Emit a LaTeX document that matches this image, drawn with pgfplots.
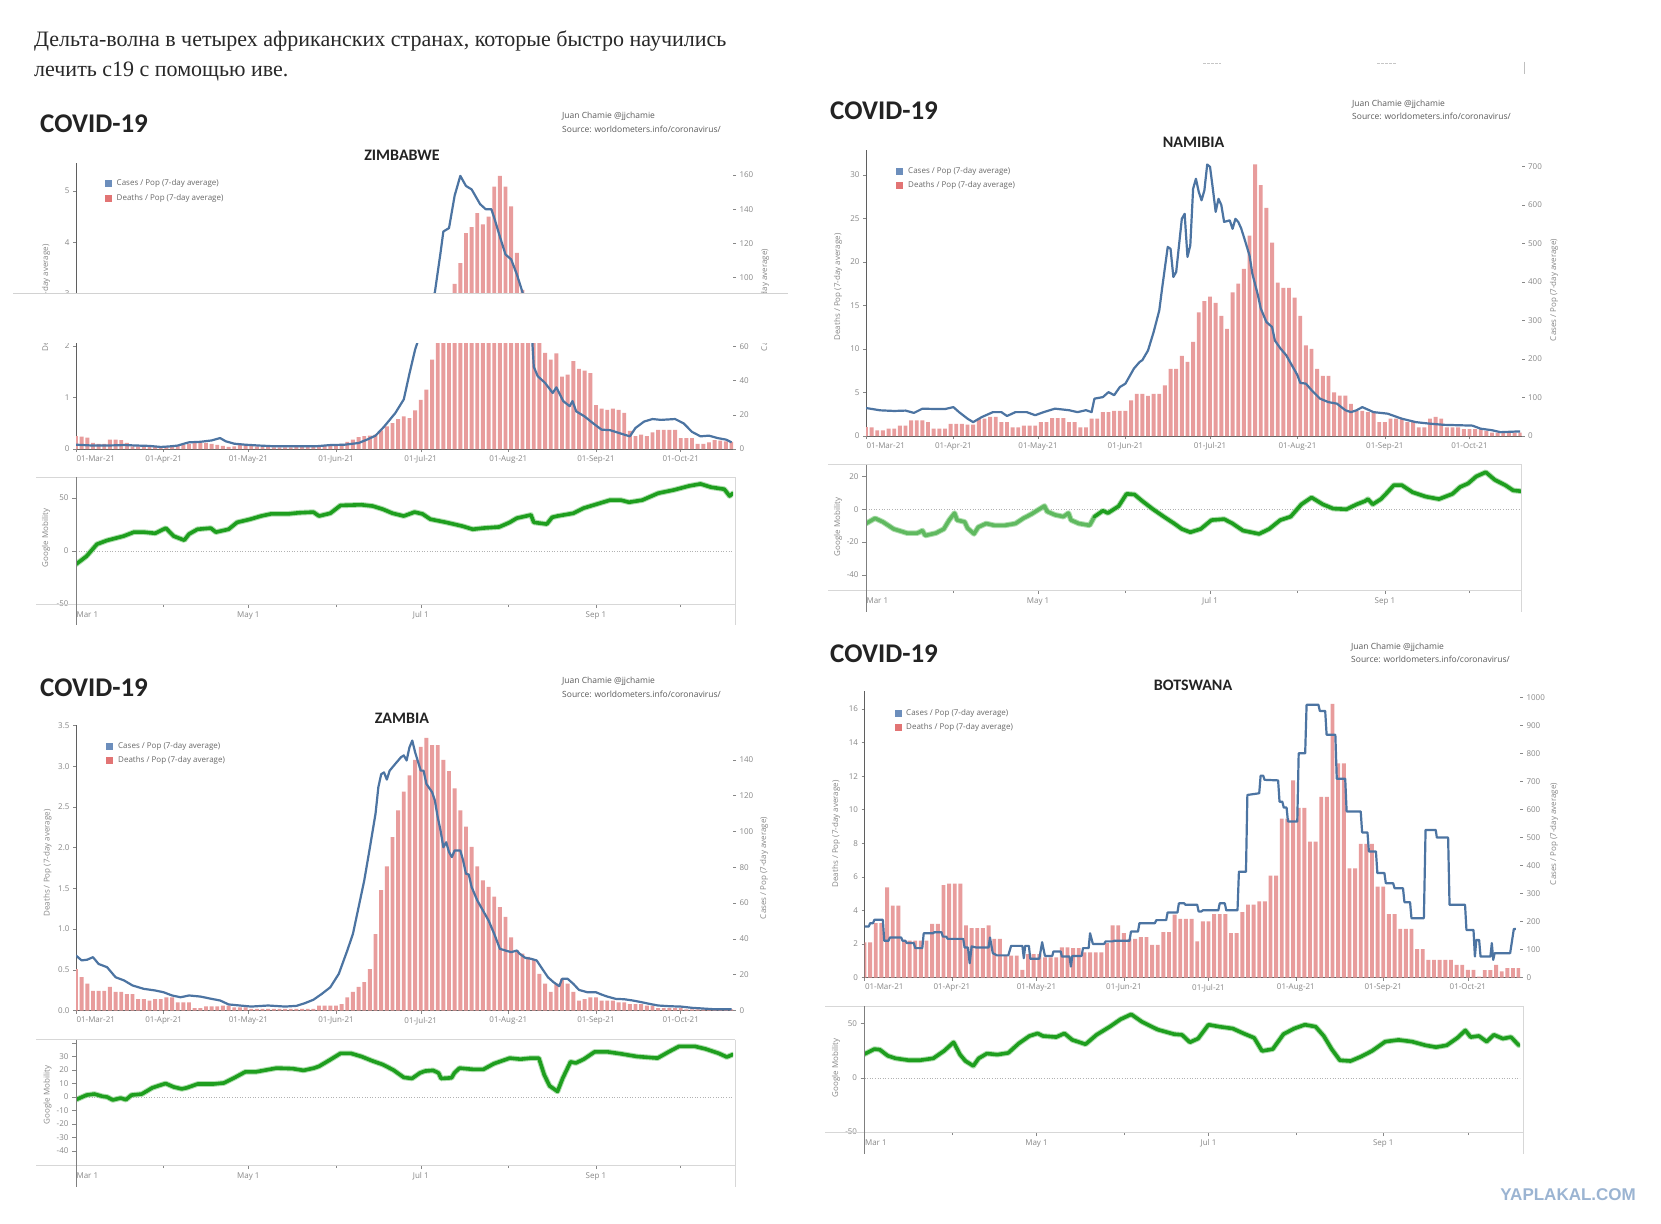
\documentclass[border=0pt]{standalone}
\usepackage{pgfplots}
\pgfplotsset{compat=1.18}
\usepackage{fontspec}
\setmainfont{Open Sans}
\newfontfamily\rufont{Liberation Serif}
\newfontfamily\cbfont{Carlito}
\newfontfamily\wmfont{Liberation Sans}
\definecolor{barc}{RGB}{232,156,156}
\definecolor{casec}{RGB}{76,116,162}
\definecolor{mobc}{RGB}{30,158,30}
\definecolor{mobl}{RGB}{120,200,120}
\definecolor{mobe}{RGB}{95,185,95}
\definecolor{axc}{RGB}{95,95,95}
\definecolor{tickc}{RGB}{135,135,135}
\definecolor{boxc}{RGB}{215,215,215}
\definecolor{legb}{RGB}{108,142,188}
\definecolor{legr}{RGB}{226,116,116}
\definecolor{legt}{RGB}{105,105,105}
\definecolor{txt}{RGB}{40,40,40}
\definecolor{ttl}{RGB}{35,35,35}
\definecolor{src}{RGB}{90,90,90}
\definecolor{wmc}{RGB}{155,180,210}
\newcommand{\tlfont}{\fontsize{8}{9}\selectfont}
\newcommand{\covfont}{\cbfont\bfseries\fontsize{27}{30}\selectfont}
\newcommand{\ctyfont}{\cbfont\bfseries\fontsize{16}{18}\selectfont}
\newcommand{\srcfont}{\fontsize{8.5}{10}\selectfont}

\pgfplotsset{
 base/.style={scale only axis, xmin=0, xmax=232.5,
   axis line style={-, draw=axc, line width=0.8pt},
   tick style={draw=tickc, line width=0.5pt},
   major tick length=3pt, tick align=outside,
   tick label style={font=\tlfont, text=tickc},
   /pgf/number format/assume math mode=true,
   /pgf/number format/1000 sep={}},
 deaths/.style={base, axis x line*=bottom, axis y line*=left,
   xtick={31,61,92,122,153,184,214},
   xticklabels={01-Apr-21,01-May-21,01-Jun-21,01-Jul-21,01-Aug-21,01-Sep-21,01-Oct-21},
   extra x ticks={0}, extra x tick labels={01-Mar-21},
   extra x tick style={xticklabel style={anchor=north west, xshift=-3pt}}},
 cases/.style={base, axis x line=none, axis y line*=right, axis line style={draw=none}},
 mob/.style={base, axis x line*=bottom, axis y line*=left, axis line style={draw=none},
   xtick={61,122,184}, xticklabels={May 1,Jul 1,Sep 1},
   extra x ticks={0}, extra x tick labels={Mar 1},
   extra x tick style={xticklabel style={anchor=north west, xshift=-3pt}},
   minor xtick={31,92,153,214}, minor tick length=3pt, major tick length=4pt},
 bars/.style={ybar, bar width=1.38, fill=barc, draw=none, bar shift=0pt},
 cline/.style={casec, line width=2.2pt, line join=round},
 mhalo/.style={mobl, line width=5.6pt, line join=round, line cap=round, opacity=0.6},
 mline/.style={mobc, line width=3.6pt, line join=round, line cap=round},
}

\begin{document}
\begin{tikzpicture}
\path[use as bounding box] (0,0) rectangle (1661pt,-1223pt);
\fill[white] (0,0) rectangle (1661pt,-1223pt);

% ---------- heading text ----------
\node[anchor=base west, font=\rufont\fontsize{22}{26}\selectfont, text=txt, inner sep=0] at (34pt,-47pt) {Дельта-волна в четырех африканских странах, которые быстро научились};
\node[anchor=base west, font=\rufont\fontsize{22}{26}\selectfont, text=txt, inner sep=0] at (34pt,-76pt) {лечить c19 с помощью иве.};

% remnants top right
\draw[gray!45, line width=0.7pt, dash pattern=on 2.5pt off 1.5pt] (1203pt,-63pt) -- (1221pt,-63pt);
\draw[gray!45, line width=0.7pt, dash pattern=on 2.5pt off 1.5pt] (1377pt,-63pt) -- (1397pt,-63pt);
\draw[gray!50, line width=0.7pt] (1524pt,-62pt) -- (1524pt,-74pt);

% =================== ZIMBABWE ===================
\begin{axis}[deaths, at={(76pt,-449pt)}, anchor=south west, width=657pt, height=286pt,
  ymin=0, ymax=5.54, ytick={0,1,2,3,4,5}]
\addplot[bars] coordinates {(0,0.25)(2,0.24)(4,0.22)(6,0.12)(8,0.1)(10,0.1)(12,0.18)(14,0.18)(16,0.17)(18,0.12)(20,0.05)(22,0.05)(24,0.04)(26,0.04)(28,0.04)(30,0.04)(32,0.04)(34,0.05)(36,0.06)(38,0.08)(40,0.1)(42,0.12)(44,0.12)(46,0.12)(48,0.1)(50,0.08)(52,0.06)(54,0.04)(56,0.05)(58,0.08)(60,0.08)(62,0.06)(64,0.05)(66,0.04)(68,0.04)(70,0.03)(72,0.03)(74,0.03)(76,0.03)(78,0.04)(80,0.04)(82,0.04)(84,0.05)(86,0.06)(88,0.06)(90,0.07)(92,0.08)(94,0.1)(96,0.14)(98,0.18)(100,0.23)(102,0.25)(104,0.26)(106,0.28)(108,0.36)(110,0.44)(112,0.5)(114,0.58)(116,0.63)(118,0.6)(120,0.75)(122,0.95)(124,1.15)(126,1.73)(128,2.2)(130,2.5)(132,2.85)(134,3.2)(136,3.6)(138,4.18)(140,4.3)(142,4.57)(144,4.35)(146,4.5)(148,5.08)(150,5.29)(152,5.08)(154,4.7)(156,3.8)(158,3.08)(160,2.6)(162,2.3)(164,2.1)(166,1.86)(168,1.73)(170,1.85)(172,1.4)(174,1.44)(176,1.7)(178,1.55)(180,1.52)(182,1.47)(184,0.85)(186,0.78)(188,0.76)(190,0.78)(192,0.76)(194,0.7)(196,0.35)(198,0.25)(200,0.28)(202,0.25)(204,0.32)(206,0.37)(208,0.37)(210,0.37)(212,0.37)(214,0.21)(216,0.21)(218,0.21)(220,0.1)(222,0.1)(224,0.13)(226,0.17)(228,0.16)(230,0.15)(232,0.14)};
\end{axis}
\begin{axis}[cases, at={(76pt,-449pt)}, anchor=south west, width=657pt, height=286pt,
  ymin=0, ymax=167, ytick={0,20,...,160}]
\addplot[cline] coordinates {(0,2.5)(5,2.1)(10,2)(15,2.2)(17,2.3)(22,2)(26,1.8)(30,1.2)(33,1.5)(36,2)(38,3)(40,3.9)(44,4.2)(48,5)(51,6.4)(53,4.5)(56,3.1)(60,2.5)(65,2)(70,1.6)(75,1.6)(80,1.6)(85,1.6)(90,2.3)(95,2.5)(100,3.5)(103,5.5)(106,7.8)(109,13)(111,17)(113,21)(116,29)(118,44)(120,58)(122,68)(124,76)(126,86)(127,91.6)(129,114.6)(130,127)(132,129)(134,148)(136,159.5)(138,153.6)(140,151.6)(143,143)(145,140)(147,140)(148,135)(150,124)(152,113.6)(154,110.7)(156,102)(158,91.6)(160,76)(161.5,62)(162,48)(163.4,42.5)(166,38.6)(168.7,32.7)(170,36)(172.4,28)(174.7,25)(175.7,28)(177,22)(180,19)(183,15)(186,11.3)(189,11)(194,8.4)(196,7.4)(198,12.3)(201,16)(204,17.5)(207,17)(212,17.5)(215,15)(218,10)(221,7.4)(224,7.8)(227,6.4)(230,5.5)(232,3.9)};
\end{axis}
\begin{axis}[mob, at={(76pt,-604pt)}, anchor=south west, width=657pt, height=127pt,
  ymin=-50, ymax=69.8, ytick={-50,0,50}]
\draw[dotted, gray!60, line width=0.6pt] (axis cs:0,0) -- (axis cs:232.5,0);
\addplot[mhalo] coordinates {(0,-12.5)(3.7,-5)(7.4,6.4)(11,10)(16.8,14)(20.5,17.8)(24,17.8)(28,16.7)(31.8,21.6)(34.6,14)(38.3,10.2)(40,16)(43,20.5)(47.7,21.6)(49.5,17.8)(54,20.5)(57,27)(61.7,30)(65.5,33)(69,35)(75,35)(78.6,36)(84,36.7)(86,33)(90,35.6)(93.6,43)(101,43.6)(105,42.4)(108.6,39.4)(112,35.6)(116,33)(119.8,36.7)(122.6,35)(125.4,30)(131,27)(136.7,23.5)(140.4,20.5)(144,21.6)(149.8,22.7)(153.5,27)(156,31)(161,34)(162,27)(166.6,25.4)(168.5,31.8)(170.4,33)(176,35.6)(179.7,40.5)(184.4,44.3)(189,48)(192.8,48)(195.7,46)(200.4,48)(206,54.5)(211.6,57.6)(217,61.4)(221,63.3)(224.7,60.2)(229.4,58.3)(231.3,51.9)(232.5,54.5)};
\addplot[mline] coordinates {(0,-12.5)(3.7,-5)(7.4,6.4)(11,10)(16.8,14)(20.5,17.8)(24,17.8)(28,16.7)(31.8,21.6)(34.6,14)(38.3,10.2)(40,16)(43,20.5)(47.7,21.6)(49.5,17.8)(54,20.5)(57,27)(61.7,30)(65.5,33)(69,35)(75,35)(78.6,36)(84,36.7)(86,33)(90,35.6)(93.6,43)(101,43.6)(105,42.4)(108.6,39.4)(112,35.6)(116,33)(119.8,36.7)(122.6,35)(125.4,30)(131,27)(136.7,23.5)(140.4,20.5)(144,21.6)(149.8,22.7)(153.5,27)(156,31)(161,34)(162,27)(166.6,25.4)(168.5,31.8)(170.4,33)(176,35.6)(179.7,40.5)(184.4,44.3)(189,48)(192.8,48)(195.7,46)(200.4,48)(206,54.5)(211.6,57.6)(217,61.4)(221,63.3)(224.7,60.2)(229.4,58.3)(231.3,51.9)(232.5,54.5)};
\end{axis}
\draw[boxc, line width=0.8pt] (36pt,-477pt) -- (735pt,-477pt);
\draw[boxc, line width=0.8pt] (36pt,-604pt) -- (735pt,-604pt);
\draw[boxc, line width=0.8pt] (735pt,-477pt) -- (735pt,-625pt);
\draw[axc!80, line width=0.8pt] (76pt,-477pt) -- (76pt,-625pt);
\fill[legb] (105pt,-179.5pt) rectangle (112pt,-186.5pt);
\node[anchor=west, font=\tlfont, text=legt, inner sep=0] at (116.5pt,-183pt) {Cases / Pop (7-day average)};
\fill[legr] (105pt,-194.5pt) rectangle (112pt,-201.5pt);
\node[anchor=west, font=\tlfont, text=legt, inner sep=0] at (116.5pt,-198pt) {Deaths / Pop (7-day average)};
\node[anchor=west, font=\covfont, text=ttl, inner sep=0] at (40pt,-124pt) {COVID-19};
\node[anchor=west, font=\srcfont, text=src, inner sep=0] at (562pt,-116.5pt) {Juan Chamie @jjchamie};
\node[anchor=west, font=\srcfont, text=src, inner sep=0] at (562pt,-129pt) {Source: worldometers.info/coronavirus/};
\node[font=\ctyfont, text=ttl, inner sep=0] at (402pt,-155pt) {ZIMBABWE};
\node[rotate=90, font=\tlfont, text=tickc, inner sep=0] at (46pt,-298pt) {Deaths / Pop (7-day average)};
\node[rotate=90, font=\tlfont, text=tickc, inner sep=0] at (765pt,-300pt) {Cases / Pop (7-day average)};
\node[rotate=90, font=\tlfont, text=tickc, inner sep=0] at (46pt,-538pt) {Google Mobility};
% cut band
\fill[white] (13pt,-293.5pt) rectangle (790pt,-343pt);
\draw[gray!35, line width=0.8pt] (13pt,-293.5pt) -- (788pt,-293.5pt);

% =================== NAMIBIA ===================
\begin{axis}[deaths, at={(866pt,-436pt)}, anchor=south west, width=655.6pt, height=286.5pt,
  ymin=0, ymax=32.9, ytick={0,5,...,30}]
\addplot[bars] coordinates {(0,1.03)(2,1.0)(4,0.65)(6,0.65)(8,0.84)(10,0.84)(12,1.2)(14,1.2)(16,1.8)(18,1.8)(20,1.8)(22,1.6)(24,0.84)(26,0.84)(28,0.84)(30,1.4)(32,1.4)(34,1.4)(36,1.3)(38,1.3)(40,2.0)(42,2.0)(44,2.2)(46,2.2)(48,1.6)(50,1.6)(52,1.0)(54,1.0)(56,1.2)(58,1.2)(60,1.2)(62,1.6)(64,1.6)(66,2.06)(68,2.06)(70,2.06)(72,1.6)(74,1.6)(76,1.0)(78,1.0)(80,2.0)(82,2.0)(84,2.75)(86,2.75)(88,2.9)(90,2.9)(92,2.9)(94,4.1)(96,4.85)(98,4.85)(100,4.6)(102,4.85)(104,4.85)(106,5.8)(108,7.7)(110,7.7)(112,9.2)(114,8.5)(116,10.8)(118,14.2)(120,15.5)(122,16.0)(124,15.3)(126,13.8)(128,12.3)(130,16.5)(132,17.5)(134,19.2)(136,23.0)(138,31.2)(140,28.8)(142,26.2)(144,22.2)(146,17.6)(148,17.0)(150,17.0)(152,15.9)(154,13.8)(156,10.4)(158,10.0)(160,7.7)(162,6.9)(164,6.9)(166,5.0)(168,4.65)(170,4.65)(172,3.7)(174,2.9)(176,2.9)(178,2.75)(180,2.75)(182,1.6)(184,1.6)(186,2.0)(188,2.0)(190,2.0)(192,1.6)(194,1.6)(196,1.0)(198,1.0)(200,2.0)(202,2.2)(204,2.0)(206,1.0)(208,1.0)(210,1.0)(212,0.8)(214,0.8)(216,0.8)(218,0.8)(220,0.6)(222,0.4)(224,0.4)(226,0.4)(228,0.4)(230,0.4)(232,0.4)};
\end{axis}
\begin{axis}[cases, at={(866pt,-436pt)}, anchor=south west, width=655.6pt, height=286.5pt,
  ymin=0, ymax=744, ytick={0,100,...,700}]
\addplot[cline] coordinates {(0,72.7)(5,66.7)(10,65)(14,66)(17,60)(20,71)(25,70)(28,70)(31,75)(33,62)(36,45)(38,36)(41,49)(45,62)(48,62)(50,52)(53,62)(57,62)(60,54)(63,62)(67,71)(72,67)(75,62)(78,67)(80,62)(81,97)(84,101)(86,114)(88,106)(90,127)(92,136)(95,175)(97,192)(98,197)(100,222)(102,270)(104,326)(105,383)(107,491)(108,486)(109,413)(110,426)(112,564)(113,577)(114,465)(115,495)(116,642)(117,668)(118,634)(119,612)(120,638)(121,705)(122,699)(123,642)(124,582)(125,616)(126,600)(127,556)(129,560)(130,538)(131,564)(132,556)(133,540)(134,517)(136,469)(137,422)(139,365)(140,331)(142,296)(144,283)(145,248)(147,227)(149,210)(151,184)(153,158)(154,138)(156,136)(158,119)(161,97)(164,88)(167,84)(170,67)(172,62)(174,67)(176,75)(180,62)(185,58)(190,45)(195,36)(200,32)(205,29)(210,28)(215,27)(218,19)(222,15)(225,10)(232,12)};
\end{axis}
\begin{axis}[mob, at={(866pt,-590pt)}, anchor=south west, width=655.6pt, height=125.2pt,
  ymin=-49.2, ymax=27.1, ytick={-40,-20,0,20}]
\draw[dotted, gray!60, line width=0.6pt] (axis cs:0,0) -- (axis cs:232.5,0);
\addplot[mhalo] coordinates {(0,-8.7)(3.2,-5.5)(6,-7.7)(9.8,-12)(14.5,-14.5)(18.2,-14.5)(20,-13)(21,-16)(24.8,-14.5)(27.6,-12)(29.5,-6.6)(31.4,-2.3)(32.3,-6.6)(35,-7.7)(36,-11.5)(38.3,-15)(39.8,-10.9)(42.6,-8.7)(45.5,-9.8)(49.2,-9.8)(53,-8.7)(55.8,-5.5)(58.6,-3)(61.4,0)(63.3,2)(64.2,-1.3)(67,-3.4)(70,-4.5)(71.8,-2.3)(72.7,-6.6)(75.5,-8.7)(79.3,-9.8)(81,-4.5)(84,-0.9)(85.8,-2.3)(89.6,1.9)(92.4,9.4)(95.2,9)(98,5)(101.8,0)(105.6,-4.5)(109.3,-8.7)(112,-12)(115,-14)(118.7,-12)(122.5,-6.6)(127,-6)(130,-8.7)(133.7,-13)(139.4,-15)(143,-12)(146.9,-6.6)(150.6,-4.5)(154.4,3)(158,7.2)(162,3)(165.7,0.4)(170.4,0)(174,3)(177,5)(178,6.2)(179.7,3)(182.6,6.2)(184.4,9.4)(187.2,14.7)(190,14.7)(193.8,10.4)(198.5,7.7)(203.2,6.2)(208,9.4)(210.7,13.6)(213.5,15.7)(216.4,20)(219.8,22.6)(223,17.9)(226.7,14.7)(229.5,11.5)(232.3,11)};
\addplot[mobe, line width=3.6pt, line join=round, line cap=round] coordinates {(0,-8.7)(3.2,-5.5)(6,-7.7)(9.8,-12)(14.5,-14.5)(18.2,-14.5)(20,-13)(21,-16)(24.8,-14.5)(27.6,-12)(29.5,-6.6)(31.4,-2.3)(32.3,-6.6)(35,-7.7)(36,-11.5)(38.3,-15)(39.8,-10.9)(42.6,-8.7)(45.5,-9.8)(49.2,-9.8)(53,-8.7)(55.8,-5.5)(58.6,-3)(61.4,0)(63.3,2)(64.2,-1.3)(67,-3.4)(70,-4.5)(71.8,-2.3)(72.7,-6.6)(75.5,-8.7)(79.3,-9.8)(81,-4.5)};
\addplot[mline] coordinates {(81,-4.5)(84,-0.9)(85.8,-2.3)(89.6,1.9)(92.4,9.4)(95.2,9)(98,5)(101.8,0)(105.6,-4.5)(109.3,-8.7)(112,-12)(115,-14)(118.7,-12)(122.5,-6.6)(127,-6)(130,-8.7)(133.7,-13)(139.4,-15)(143,-12)(146.9,-6.6)(150.6,-4.5)(154.4,3)(158,7.2)(162,3)(165.7,0.4)(170.4,0)(174,3)(177,5)(178,6.2)(179.7,3)(182.6,6.2)(184.4,9.4)(187.2,14.7)(190,14.7)(193.8,10.4)(198.5,7.7)(203.2,6.2)(208,9.4)(210.7,13.6)(213.5,15.7)(216.4,20)(219.8,22.6)(223,17.9)(226.7,14.7)(229.5,11.5)(232.3,11)};
\end{axis}
\draw[boxc, line width=0.8pt] (828pt,-464.8pt) -- (1521.6pt,-464.8pt);
\draw[boxc, line width=0.8pt] (828pt,-590pt) -- (1521.6pt,-590pt);
\draw[boxc, line width=0.8pt] (1521.6pt,-464.8pt) -- (1521.6pt,-612pt);
\draw[axc!80, line width=0.8pt] (866pt,-464.8pt) -- (866pt,-612pt);
\fill[legb] (896pt,-168.2pt) rectangle (903pt,-175.2pt);
\node[anchor=west, font=\tlfont, text=legt, inner sep=0] at (908pt,-171.7pt) {Cases / Pop (7-day average)};
\fill[legr] (896pt,-182.2pt) rectangle (903pt,-189.2pt);
\node[anchor=west, font=\tlfont, text=legt, inner sep=0] at (908pt,-185.7pt) {Deaths / Pop (7-day average)};
\node[anchor=west, font=\covfont, text=ttl, inner sep=0] at (830pt,-111pt) {COVID-19};
\node[anchor=west, font=\srcfont, text=src, inner sep=0] at (1352pt,-104pt) {Juan Chamie @jjchamie};
\node[anchor=west, font=\srcfont, text=src, inner sep=0] at (1352pt,-116.5pt) {Source: worldometers.info/coronavirus/};
\node[font=\ctyfont, text=ttl, inner sep=0] at (1193.5pt,-142.4pt) {NAMIBIA};
\node[rotate=90, font=\tlfont, text=tickc, inner sep=0] at (838pt,-287pt) {Deaths / Pop (7-day average)};
\node[rotate=90, font=\tlfont, text=tickc, inner sep=0] at (1554pt,-290pt) {Cases / Pop (7-day average)};
\node[rotate=90, font=\tlfont, text=tickc, inner sep=0] at (838pt,-527pt) {Google Mobility};

% =================== ZAMBIA ===================
\begin{axis}[deaths, at={(76pt,-1010.5pt)}, anchor=south west, width=657pt, height=285.7pt,
  ymin=0, ymax=3.51, ytick={0,0.5,...,3.5},
  yticklabel style={/pgf/number format/.cd, fixed, fixed zerofill, precision=1}]
\addplot[bars] coordinates {(0,0.51)(2,0.41)(4,0.33)(6,0.24)(8,0.24)(10,0.24)(12,0.29)(14,0.23)(16,0.23)(18,0.2)(20,0.2)(22,0.14)(24,0.14)(26,0.12)(28,0.14)(30,0.14)(32,0.16)(34,0.16)(36,0.1)(38,0.1)(40,0.1)(42,0.03)(44,0.03)(46,0.05)(48,0.05)(50,0.05)(52,0.06)(54,0.06)(56,0.04)(58,0.04)(60,0.04)(62,0.02)(64,0.02)(66,0.02)(68,0.02)(70,0.02)(72,0.02)(74,0.02)(76,0.02)(78,0.02)(80,0.02)(82,0.02)(84,0.02)(86,0.06)(88,0.06)(90,0.06)(92,0.06)(94,0.08)(96,0.16)(98,0.23)(100,0.29)(102,0.35)(104,0.51)(106,0.94)(108,1.48)(110,1.77)(112,2.13)(114,2.46)(116,2.69)(118,2.89)(120,3.08)(122,3.24)(124,3.35)(126,3.26)(128,3.26)(130,3.08)(132,2.94)(134,2.73)(136,2.46)(138,2.26)(140,2.01)(142,1.77)(144,1.6)(146,1.52)(148,1.4)(150,1.27)(152,1.15)(154,0.9)(156,0.74)(158,0.7)(160,0.66)(162,0.62)(164,0.45)(166,0.33)(168,0.23)(170,0.33)(172,0.39)(174,0.33)(176,0.23)(178,0.12)(180,0.14)(182,0.16)(184,0.16)(186,0.12)(188,0.12)(190,0.12)(192,0.1)(194,0.1)(196,0.08)(198,0.08)(200,0.08)(202,0.06)(204,0.06)(206,0.03)(208,0.03)(210,0.03)(212,0.03)(214,0.03)(216,0.015)(218,0.015)(220,0.015)(222,0.015)(224,0.015)(226,0.015)(228,0.015)(230,0.015)(232,0.015)};
\end{axis}
\begin{axis}[cases, at={(76pt,-1010.5pt)}, anchor=south west, width=657pt, height=285.7pt,
  ymin=0, ymax=159.6, ytick={0,20,...,140}]
\addplot[cline] coordinates {(0,30.7)(2,28)(4,28.4)(6,29.8)(8,26)(11,24.2)(14,18.6)(17,16.8)(20,14)(24,12.1)(28,11.2)(31,10.2)(34,8.4)(37,7.4)(40,8.4)(44,7.8)(48,6.5)(51,5.6)(54,3.4)(58,2.8)(62,2.2)(68,2.8)(74,2.2)(78,2.6)(81,4.1)(84,6)(87,9.3)(90,13)(93,20.5)(96,33.5)(98,42.8)(100,57.7)(102,72.6)(104,91)(106,110)(107,124.8)(108,132)(109,133)(110,129)(111,134)(113,137.8)(115,141.5)(116,142.5)(117,139.7)(118,147)(119,150.8)(120,144.3)(122,134)(123,134)(124,126.6)(126,122)(127,117.3)(128,108)(129,100.6)(130,91.2)(131,94)(132,88.5)(133,85.7)(134,89.4)(136,89.4)(137,83.8)(138,76.4)(139,76)(140,69)(142,61.5)(144,55.9)(146,50.3)(148,42.8)(150,34.5)(152,33.5)(154,32.6)(156,33.5)(157,31.7)(159,29.4)(161,28.9)(163,28)(165,23.3)(167,18.6)(169,15.8)(171,13.6)(172,17.7)(174,17.7)(176,14.9)(178,11.5)(181,10.2)(184,10.2)(186,8.9)(188,7.8)(191,6.5)(194,6.3)(197,5.6)(200,4.7)(203,3.7)(206,2.8)(210,2.4)(214,2.2)(218,1.5)(222,1.1)(226,0.7)(232,0.7)};
\end{axis}
\begin{axis}[mob, at={(76pt,-1165pt)}, anchor=south west, width=657pt, height=125.4pt,
  ymin=-50.4, ymax=42.5, ytick={-40,-30,...,40}, yticklabels={-40,-30,-20,-10,0,10,20,30,{}}]
\draw[dotted, gray!60, line width=0.6pt] (axis cs:0,0) -- (axis cs:232.5,0);
\addplot[mhalo] coordinates {(0,-2)(3.7,1.4)(6.5,2.2)(9.3,0.5)(11,0)(13,-2.2)(15.8,-0.8)(17.7,-2)(19.6,1.4)(23.3,2.2)(27,6.8)(29.9,8.8)(31.7,10)(34.6,7.4)(37.4,6)(39.2,6.8)(43,9.6)(48.6,9.6)(52.4,10.4)(56,14.2)(59.9,18.6)(63.6,18.6)(67.3,20)(71,21.4)(76.7,21)(80.5,19.7)(84.2,21.4)(86,22.7)(89.8,27.4)(93.6,32.3)(97.3,32.3)(101,30)(104.8,26.8)(108.6,24)(112.3,20)(116,14.5)(118.9,13.7)(121.7,17.8)(123.5,19.2)(126.4,19.7)(128.3,17.8)(129.2,13.7)(132.9,14.2)(133.9,17.8)(135.7,21.4)(140.4,20.5)(144.2,20.5)(147.9,24.7)(153.5,28.8)(157.3,28)(161,28.8)(163.8,28.8)(165.7,16.4)(167.6,8.2)(170.4,4.1)(172.2,13.7)(175,26)(176.9,25.2)(179.7,28)(183.5,33.4)(188.2,33.4)(192.8,32)(198.5,30)(205.8,28.8)(209.7,33.4)(213.4,37.5)(219,37.5)(222.8,35.6)(227.5,32.3)(230.3,29.6)(232.5,31.5)};
\addplot[mline] coordinates {(0,-2)(3.7,1.4)(6.5,2.2)(9.3,0.5)(11,0)(13,-2.2)(15.8,-0.8)(17.7,-2)(19.6,1.4)(23.3,2.2)(27,6.8)(29.9,8.8)(31.7,10)(34.6,7.4)(37.4,6)(39.2,6.8)(43,9.6)(48.6,9.6)(52.4,10.4)(56,14.2)(59.9,18.6)(63.6,18.6)(67.3,20)(71,21.4)(76.7,21)(80.5,19.7)(84.2,21.4)(86,22.7)(89.8,27.4)(93.6,32.3)(97.3,32.3)(101,30)(104.8,26.8)(108.6,24)(112.3,20)(116,14.5)(118.9,13.7)(121.7,17.8)(123.5,19.2)(126.4,19.7)(128.3,17.8)(129.2,13.7)(132.9,14.2)(133.9,17.8)(135.7,21.4)(140.4,20.5)(144.2,20.5)(147.9,24.7)(153.5,28.8)(157.3,28)(161,28.8)(163.8,28.8)(165.7,16.4)(167.6,8.2)(170.4,4.1)(172.2,13.7)(175,26)(176.9,25.2)(179.7,28)(183.5,33.4)(188.2,33.4)(192.8,32)(198.5,30)(205.8,28.8)(209.7,33.4)(213.4,37.5)(219,37.5)(222.8,35.6)(227.5,32.3)(230.3,29.6)(232.5,31.5)};
\end{axis}
\draw[boxc, line width=0.8pt] (36pt,-1039.6pt) -- (735pt,-1039.6pt);
\draw[boxc, line width=0.8pt] (36pt,-1165pt) -- (735pt,-1165pt);
\draw[boxc, line width=0.8pt] (735pt,-1039.6pt) -- (735pt,-1186.5pt);
\draw[axc!80, line width=0.8pt] (76pt,-1039.6pt) -- (76pt,-1186.5pt);
\fill[legb] (106pt,-743.2pt) rectangle (113pt,-750.2pt);
\node[anchor=west, font=\tlfont, text=legt, inner sep=0] at (118pt,-746.7pt) {Cases / Pop (7-day average)};
\fill[legr] (106pt,-757.2pt) rectangle (113pt,-764.2pt);
\node[anchor=west, font=\tlfont, text=legt, inner sep=0] at (118pt,-760.7pt) {Deaths / Pop (7-day average)};
\node[anchor=west, font=\covfont, text=ttl, inner sep=0] at (40pt,-688pt) {COVID-19};
\node[anchor=west, font=\srcfont, text=src, inner sep=0] at (562pt,-681pt) {Juan Chamie @jjchamie};
\node[anchor=west, font=\srcfont, text=src, inner sep=0] at (562pt,-694pt) {Source: worldometers.info/coronavirus/};
\node[font=\ctyfont, text=ttl, inner sep=0] at (402pt,-718pt) {ZAMBIA};
\node[rotate=90, font=\tlfont, text=tickc, inner sep=0] at (47.6pt,-863pt) {Deaths / Pop (7-day average)};
\node[rotate=90, font=\tlfont, text=tickc, inner sep=0] at (764pt,-868pt) {Cases / Pop (7-day average)};
\node[rotate=90, font=\tlfont, text=tickc, inner sep=0] at (47.6pt,-1095pt) {Google Mobility};

% =================== BOTSWANA ===================
\begin{axis}[deaths, at={(864.5pt,-977.5pt)}, anchor=south west, width=655.5pt, height=287pt,
  ymin=0, ymax=17.1, ytick={0,2,...,16}]
\addplot[bars] coordinates {(0,2.09)(2,2.09)(4,3.24)(6,3.24)(8,5.37)(10,4.28)(12,4.28)(14,2.25)(16,2.2)(18,2.2)(20,2.2)(22,2.2)(24,3.2)(26,3.2)(28,5.5)(30,5.6)(32,5.6)(34,5.6)(36,3.1)(38,2.95)(40,2.95)(42,2.95)(44,3.1)(46,2.3)(48,2.3)(50,1.3)(52,1.3)(54,1.3)(56,0.45)(58,1.4)(60,1.4)(62,1.4)(64,1.2)(66,1.2)(68,1.2)(70,1.8)(72,1.8)(74,1.75)(76,1.75)(78,1.5)(80,1.5)(82,1.5)(84,1.5)(86,2.05)(88,3.1)(90,3.1)(92,2.65)(94,2.3)(96,2.3)(98,2.4)(100,2.4)(102,1.95)(104,1.95)(106,2.7)(108,2.7)(110,3.74)(112,3.5)(114,3.5)(116,3.5)(118,2.15)(120,3.34)(122,3.34)(124,3.78)(126,3.78)(128,3.78)(130,2.65)(132,2.65)(134,3.9)(136,4.34)(138,4.34)(140,4.54)(142,4.54)(144,6.07)(146,6.07)(148,9.47)(150,9.47)(152,11.74)(154,10.1)(156,10.1)(158,8.1)(160,8.1)(162,10.77)(164,10.77)(166,16.3)(168,12.76)(170,12.76)(172,6.5)(174,6.5)(176,7.96)(178,7.96)(180,7.96)(182,5.41)(184,5.41)(186,3.78)(188,3.78)(190,2.9)(192,2.9)(194,2.9)(196,1.69)(198,1.69)(200,1.05)(202,1.05)(204,1.05)(206,1.05)(208,1.05)(210,0.76)(212,0.76)(214,0.46)(216,0.46)(218,0.06)(220,0.44)(222,0.44)(224,0.76)(226,0.36)(228,0.56)(230,0.56)(232,0.56)};
\end{axis}
\begin{axis}[cases, at={(864.5pt,-977.5pt)}, anchor=south west, width=655.5pt, height=287pt,
  ymin=0, ymax=1025, ytick={0,100,...,1000}]
\addplot[cline] coordinates {(0,182)(1.5,182)(2,194)(3,194)(3.5,206)(6.5,206)(7,131)(8.5,131)(9,143)(13,143)(13.5,131)(14.5,131)(15,123)(17.5,123)(18,105)(20.5,105)(21,158)(24.3,158)(24.8,162)(27.3,162)(27.8,146)(29,146)(29.5,138)(35,138)(35.5,107)(36.7,107)(37.3,51)(38,111)(39.7,107)(44,107)(44.5,143)(45.5,87)(47,79)(51,79)(52,113)(56,113)(56.5,69)(57,113)(58.3,113)(58.8,67)(62,67)(63,126)(64,77)(66.6,77)(67,93)(69.6,93)(70,75)(72.7,75)(73.2,39)(73.7,77)(77,77)(77.5,105)(79.5,105)(80,158)(81,120)(85,120)(85.5,129)(88,129)(88.5,131)(94,131)(94.5,164)(97,164)(97.5,194)(103,194)(103.5,205)(107,205)(107.5,232)(111,232)(111.5,265)(113.4,265)(113.8,260)(118,260)(118.5,236)(119.5,236)(120,240)(125.5,240)(126,265)(127.8,265)(128.3,240)(132.3,240)(132.8,378)(135.3,378)(135.8,652)(140,658)(140.5,721)(141.4,721)(141.9,706)(146.7,704)(147.2,628)(148.2,628)(148.7,607)(149.7,607)(150.2,557)(153.5,557)(154,801)(156.3,801)(156.8,974)(161,974)(161.5,952)(163.4,952)(163.9,867)(167,867)(167.5,710)(170.5,710)(171,593)(176,593)(176.5,518)(178.4,518)(178.9,450)(181.4,450)(181.9,373)(184.4,373)(184.9,337)(187.5,337)(188,319)(191,319)(191.5,269)(193.5,269)(194,212)(198.4,212)(199,527)(202.6,527)(203,500)(207,500)(207.5,260)(213,260)(213.5,170)(216,170)(216.5,75)(217,134)(218,134)(218.5,75)(222,75)(222.5,123)(223,63)(223.5,87)(229,87)(230.3,173)(231,173)};
\end{axis}
\begin{axis}[mob, at={(864.5pt,-1132pt)}, anchor=south west, width=655.5pt, height=125.7pt,
  ymin=-50, ymax=66, ytick={-50,0,50}]
\draw[dotted, gray!60, line width=0.6pt] (axis cs:0,0) -- (axis cs:232.5,0);
\addplot[mhalo] coordinates {(0,22)(3.5,26.5)(5.4,26)(8.3,20.3)(11,18)(15.8,16.2)(19.6,16.2)(24.4,18)(28.2,24.8)(31.6,32.8)(33.9,21.4)(35.8,15.5)(38.6,11)(40.5,18)(43.4,22.4)(47.1,21.4)(51,23)(54.7,31.7)(58.5,38.6)(61.4,41)(63.3,38.6)(68,37.6)(70.9,41)(73.7,35)(78.4,31)(82.3,39.7)(87,47.2)(90.8,54)(94.6,58.6)(98.4,51.7)(104,44.5)(109.8,40.3)(112.6,39.7)(115.4,32.8)(118.3,36.2)(122,49)(125.9,47.2)(130.6,45.5)(134.4,41)(138.2,36.9)(141,24.8)(144.8,26.5)(148.6,40.3)(152.4,45.5)(156.2,49)(160,47.2)(162.9,38.6)(165.7,26.5)(168.6,16.2)(172.4,15.5)(176.2,19.7)(180,24.8)(184.7,33.4)(189.4,35)(194.2,33.4)(199,30)(202.7,28.3)(206.5,30)(210.3,36.9)(213.1,43.8)(215,37.6)(217.9,38.6)(220.7,33.4)(223.2,39.7)(226.4,36.2)(229.3,37.6)(232.1,30)};
\addplot[mline] coordinates {(0,22)(3.5,26.5)(5.4,26)(8.3,20.3)(11,18)(15.8,16.2)(19.6,16.2)(24.4,18)(28.2,24.8)(31.6,32.8)(33.9,21.4)(35.8,15.5)(38.6,11)(40.5,18)(43.4,22.4)(47.1,21.4)(51,23)(54.7,31.7)(58.5,38.6)(61.4,41)(63.3,38.6)(68,37.6)(70.9,41)(73.7,35)(78.4,31)(82.3,39.7)(87,47.2)(90.8,54)(94.6,58.6)(98.4,51.7)(104,44.5)(109.8,40.3)(112.6,39.7)(115.4,32.8)(118.3,36.2)(122,49)(125.9,47.2)(130.6,45.5)(134.4,41)(138.2,36.9)(141,24.8)(144.8,26.5)(148.6,40.3)(152.4,45.5)(156.2,49)(160,47.2)(162.9,38.6)(165.7,26.5)(168.6,16.2)(172.4,15.5)(176.2,19.7)(180,24.8)(184.7,33.4)(189.4,35)(194.2,33.4)(199,30)(202.7,28.3)(206.5,30)(210.3,36.9)(213.1,43.8)(215,37.6)(217.9,38.6)(220.7,33.4)(223.2,39.7)(226.4,36.2)(229.3,37.6)(232.1,30)};
\end{axis}
\draw[boxc, line width=0.8pt] (825pt,-1006.3pt) -- (1523pt,-1006.3pt);
\draw[boxc, line width=0.8pt] (825pt,-1132pt) -- (1523pt,-1132pt);
\draw[boxc, line width=0.8pt] (1523pt,-1006.3pt) -- (1523pt,-1154pt);
\draw[axc!80, line width=0.8pt] (864.5pt,-1006.3pt) -- (864.5pt,-1154pt);
\fill[legb] (895pt,-709.8pt) rectangle (902pt,-716.8pt);
\node[anchor=west, font=\tlfont, text=legt, inner sep=0] at (906pt,-713.3pt) {Cases / Pop (7-day average)};
\fill[legr] (895pt,-723.5pt) rectangle (902pt,-730.5pt);
\node[anchor=west, font=\tlfont, text=legt, inner sep=0] at (906pt,-727pt) {Deaths / Pop (7-day average)};
\node[anchor=west, font=\covfont, text=ttl, inner sep=0] at (830pt,-654pt) {COVID-19};
\node[anchor=west, font=\srcfont, text=src, inner sep=0] at (1351pt,-647pt) {Juan Chamie @jjchamie};
\node[anchor=west, font=\srcfont, text=src, inner sep=0] at (1351pt,-659.5pt) {Source: worldometers.info/coronavirus/};
\node[font=\ctyfont, text=ttl, inner sep=0] at (1193pt,-685pt) {BOTSWANA};
\node[rotate=90, font=\tlfont, text=tickc, inner sep=0] at (836pt,-834pt) {Deaths / Pop (7-day average)};
\node[rotate=90, font=\tlfont, text=tickc, inner sep=0] at (1554pt,-834pt) {Cases / Pop (7-day average)};
\node[rotate=90, font=\tlfont, text=tickc, inner sep=0] at (836pt,-1068pt) {Google Mobility};

% watermark
\node[anchor=east, font=\wmfont\bfseries\fontsize{17}{20}\selectfont, text=wmc, inner sep=0] at (1636pt,-1195pt) {YAPLAKAL.COM};
\end{tikzpicture}
\end{document}
